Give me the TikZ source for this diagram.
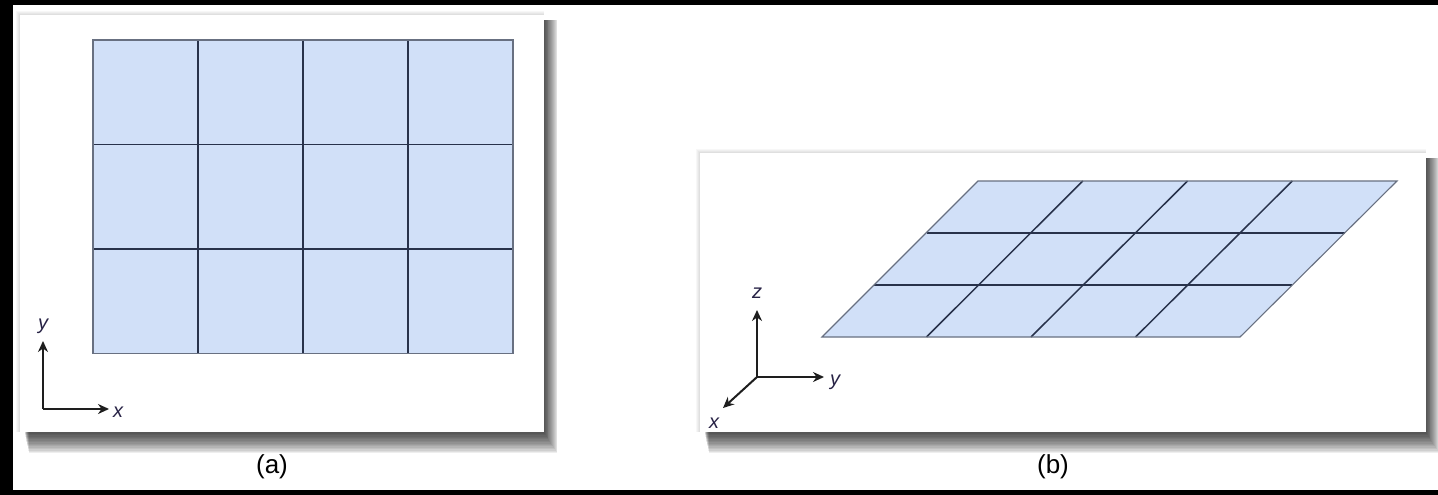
\documentclass[tikz,border=0pt]{standalone}
\usepackage{fontspec}
\setmainfont{Liberation Sans}
\usetikzlibrary{arrows.meta}
\definecolor{cellfill}{RGB}{209,224,248}
\definecolor{gridline}{RGB}{40,50,75}
\definecolor{axiscol}{RGB}{30,30,30}
\definecolor{labcol}{RGB}{40,35,70}
\tikzset{
  panel/.style={fill=white},
  gridl/.style={draw=gridline, line width=1.5pt},
  axisarrow/.style={draw=axiscol, line width=2pt, -{Stealth[length=11pt,width=10pt]}},
  axlabel/.style={font=\fontsize{20}{20}\selectfont\itshape, text=labcol, inner sep=0pt},
  caption/.style={font=\fontsize{26}{26}\selectfont, text=black, inner sep=0pt}
}
\begin{document}
\begin{tikzpicture}[x=1pt,y=-1pt]
\useasboundingbox (0,0) rectangle (1438,495);
\fill[white] (0,0) rectangle (1438,495);
% frame
\fill[black] (0,0) rectangle (1438,5);
\fill[black] (0,0) rectangle (13,495);
\fill[black] (0,490) rectangle (1438,495);

% ---------- panel (a) ----------
\foreach \i in {1,...,16}
  \fill[black, opacity=0.065] (24+0.3*\i,20) rectangle (543+0.9*\i,431+1.4*\i);
\foreach \i in {1,...,4}
  \fill[black, opacity=0.03] (20-\i,15-\i) rectangle (544,432);
\fill[panel] (20,15) rectangle (544,432);

\fill[cellfill] (93,40) rectangle (513,353.5);
\foreach \xx in {198,303,408}
  \draw[gridl] (\xx,40) -- (\xx,353.5);
\foreach \yy in {144.5,249}
  \draw[gridl] (93,\yy) -- (513,\yy);
\draw[draw=gridline!70, line width=1.1pt] (93,40) rectangle (513,353.5);

\coordinate (oa) at (43,409);
\coordinate (ya) at (43,341);
\coordinate (xa) at (109,409);
\draw[axisarrow] (oa) -- (ya);
\draw[axisarrow] (oa) -- (xa);
\node[axlabel] (lya) at (43,326) {y};
\node[axlabel] (lxa) at (118,412) {x};

% ---------- panel (b) ----------
\foreach \i in {1,...,16}
  \fill[black, opacity=0.065] (704+0.3*\i,158) rectangle (1425+0.9*\i,431+1.4*\i);
\foreach \i in {1,...,4}
  \fill[black, opacity=0.03] (700-\i,153-\i) rectangle (1426,432);
\fill[panel] (700,153) rectangle (1426,432);

\fill[cellfill] (822,337) -- (1240,337) -- (1397,181) -- (978,181) -- cycle;
\foreach \r in {1,2} {
  \draw[gridl] ({822+52.333*\r},{337-52*\r}) -- ({1240+52.333*\r},{337-52*\r});
}
\foreach \c in {1,2,3} {
  \draw[gridl] ({822+104.5*\c},337) -- ({978+104.75*\c},181);
}
\draw[draw=gridline!70, line width=1.1pt] (822,337) -- (1240,337) -- (1397,181) -- (978,181) -- cycle;

\coordinate (ob) at (757,377);
\coordinate (zb) at (757,310);
\coordinate (yb) at (824,377);
\coordinate (xb) at (723,408);
\draw[axisarrow] (ob) -- (zb);
\draw[axisarrow] (ob) -- (yb);
\draw[axisarrow] (ob) -- (xb);
\node[axlabel] (lzb) at (757,293) {z};
\node[axlabel] (lyb) at (835,382) {y};
\node[axlabel] (lxb) at (714,423) {x};

% captions
\node[caption] (capa) at (272,467) {(a)};
\node[caption] (capb) at (1053,467) {(b)};
\end{tikzpicture}
\end{document}
